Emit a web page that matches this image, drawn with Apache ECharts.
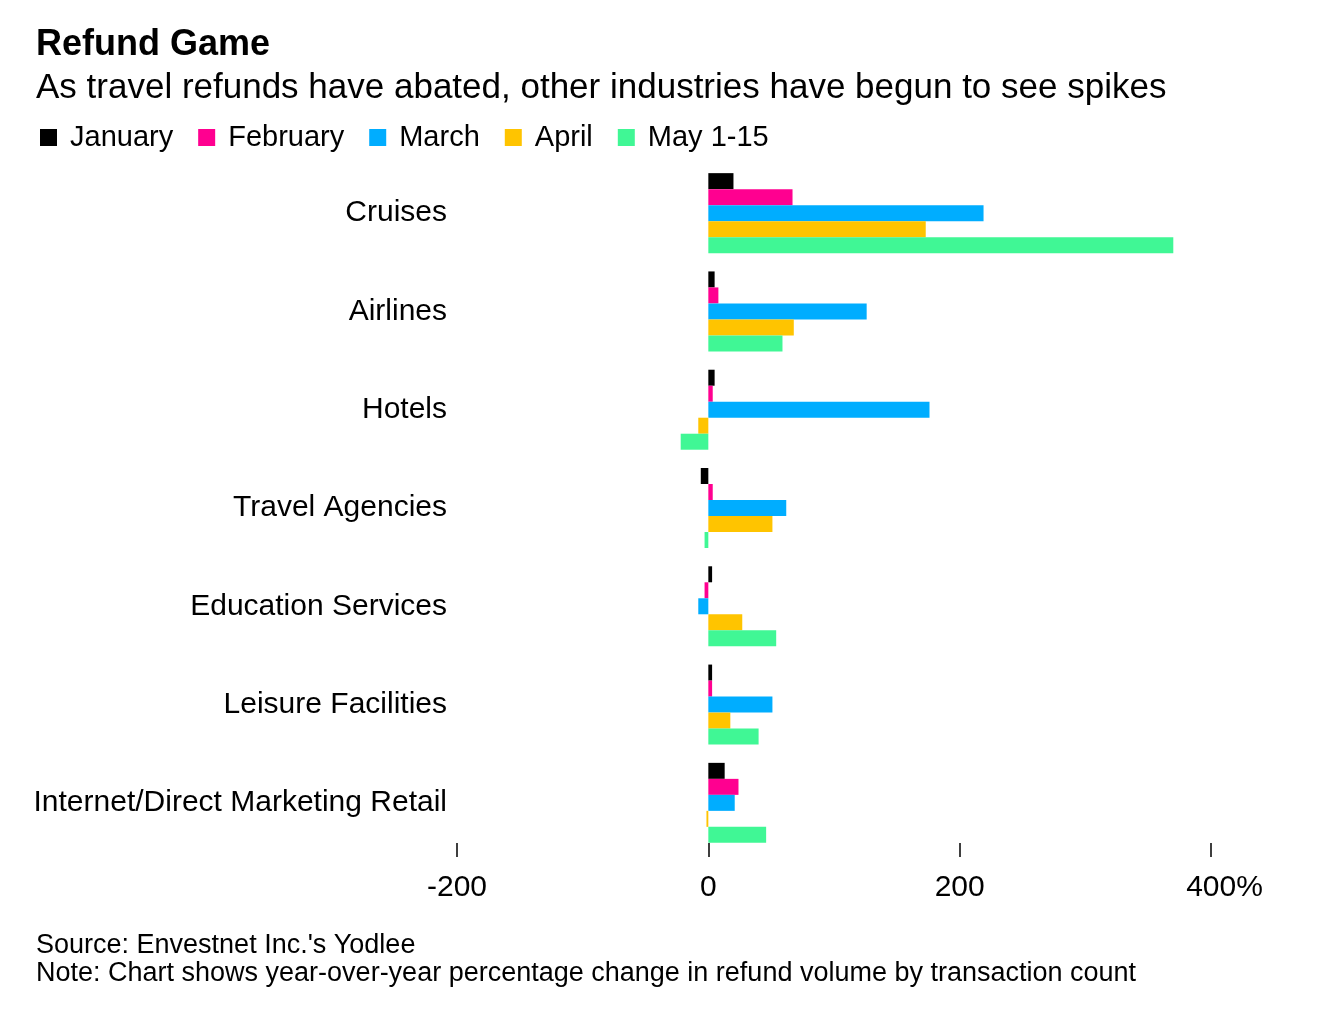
<!DOCTYPE html>
<html>
<head>
<meta charset="utf-8">
<script src="https://cdn.jsdelivr.net/npm/echarts@6/dist/echarts.min.js"></script>
<style>
html,body{margin:0;padding:0;background:#fff;}
#chart{width:1330px;height:1028px;}
</style>
</head>
<body>
<div id="chart"></div>
<script>
const categories = ['Cruises', 'Airlines', 'Hotels', 'Travel Agencies', 'Education Services', 'Leisure Facilities', 'Internet/Direct Marketing Retail'];
const seriesNames = ['January', 'February', 'March', 'April', 'May 1-15'];
const january  = [20, 5, 5, -6, 3, 3, 13];
const february = [67, 8, 3.5, 3.5, -3, 3, 24];
const march    = [219, 126, 176, 62, -8, 51, 21];
const april    = [173, 68, -8, 51, 27, 17.5, -1.5];
const may      = [370, 59, -22, -3, 54, 40, 46];
const xTicks = [-200, 0, 200, 400];
const colors = ['#000000', '#FF0090', '#00ADFF', '#FFC400', '#40F795'];

const FONT = '"Liberation Sans", Arial, sans-serif';
const allData = [january, february, march, april, may];

const chart = echarts.init(document.getElementById('chart'), null, {renderer: 'canvas'});
chart.setOption({
  animation: false,
  backgroundColor: '#ffffff',
  textStyle: {fontFamily: FONT, color: '#000'},
  title: [
    {text: 'Refund Game', left: 36, top: 27, padding: 0, textStyle: {fontFamily: FONT, fontSize: 36, fontWeight: 'bold', color: '#000'}},
    {text: 'As travel refunds have abated, other industries have begun to see spikes', left: 36, top: 71, padding: 0, textStyle: {fontFamily: FONT, fontSize: 35, fontWeight: 'normal', color: '#000'}},
    {text: "Source: Envestnet Inc.'s Yodlee\nNote: Chart shows year-over-year percentage change in refund volume by transaction count", left: 36, top: 932, padding: 0,
     textStyle: {fontFamily: FONT, fontSize: 27, fontWeight: 'normal', color: '#000', lineHeight: 28}}
  ],
  legend: {
    left: 40, top: 123, padding: 0,
    icon: 'rect', itemWidth: 17, itemHeight: 17, itemGap: 25,
    textStyle: {fontFamily: FONT, fontSize: 29, color: '#000', padding: [0, 0, 0, 8]},
    data: seriesNames
  },
  grid: {left: 457, right: 119, top: 164, bottom: 1028 - 852},
  xAxis: {
    type: 'value', min: xTicks[0], max: xTicks[xTicks.length - 1], interval: 200,
    position: 'bottom', offset: -9,
    axisLine: {show: false},
    axisTick: {show: true, length: 14, lineStyle: {color: '#000', width: 1.5}},
    splitLine: {show: false},
    axisLabel: {
      fontFamily: FONT, fontSize: 30, color: '#000', margin: 30,
      formatter: function (v) { return v === xTicks[xTicks.length - 1] ? '{a|' + v + '}{b|%}' : String(v); },
      rich: {a: {fontFamily: FONT, fontSize: 30, color: '#000', padding: [0, 0, 0, 27]}, b: {fontFamily: FONT, fontSize: 30, color: '#000'}}
    }
  },
  yAxis: {
    type: 'category', data: categories, inverse: true,
    axisLine: {show: false}, axisTick: {show: false}, splitLine: {show: false},
    axisLabel: {fontFamily: FONT, fontSize: 30, color: '#000', margin: 10}
  },
  series: seriesNames.map((n, i) => ({
    name: n, type: 'bar', data: allData[i], barWidth: 16, barGap: '0%',
    itemStyle: {color: colors[i]}
  }))
});
</script>
</body>
</html>
